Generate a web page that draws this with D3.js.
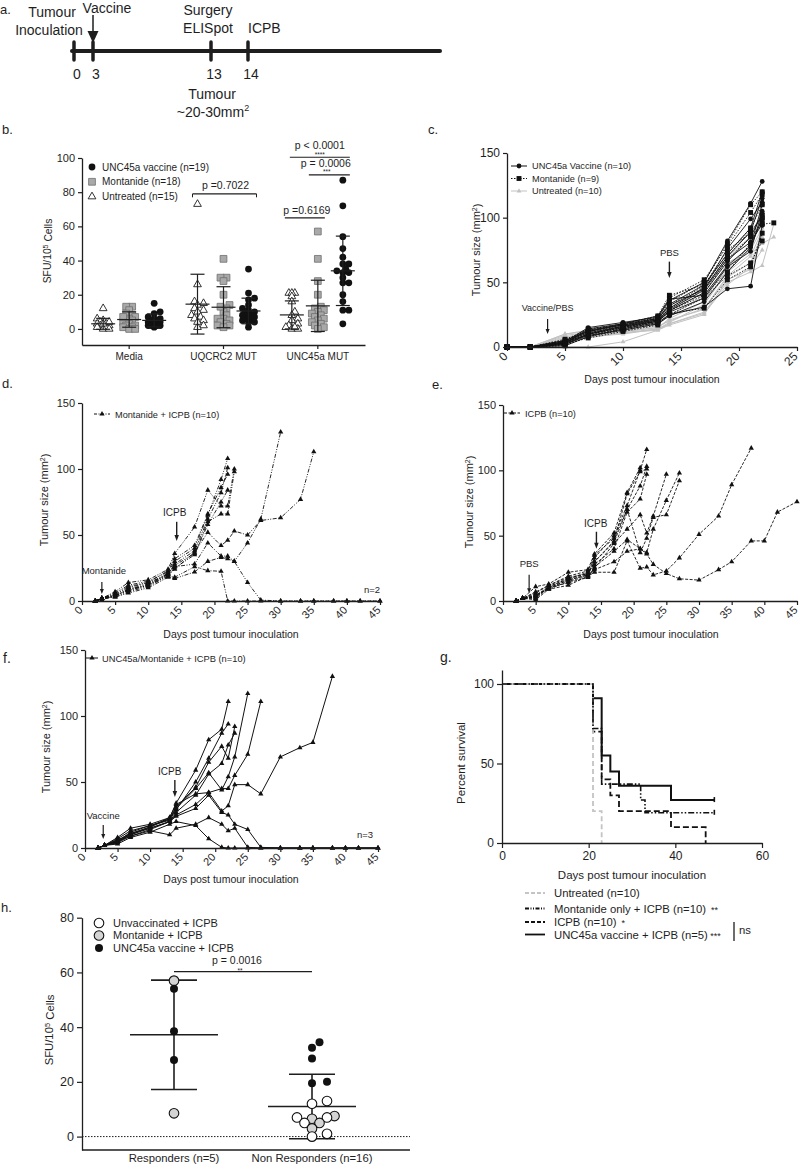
<!DOCTYPE html>
<html><head><meta charset="utf-8">
<script src="https://cdn.jsdelivr.net/npm/d3@7"></script>
<style>
body{margin:0;background:#fff;}
svg{font-family:"Liberation Sans",Arial,sans-serif;}
</style></head><body>
<svg id="fig" width="800" height="1165"></svg>
<script>
// ================= DATA =================
// Panel a: timeline
const timelineDays = [0, 3, 13, 14];
const timelineLabels = ["0", "3", "13", "14"];

// Panel b: ELISpot SFU/10^5 cells
const bCategories = ["Media", "UQCRC2 MUT", "UNC45a MUT"];
const bUntreated = [
  [12, 6, 5, 4, 3, 3, 2, 2, 2, 1, 1, 0, 0, 4, 3],
  [73, 26, 16, 15, 14, 12, 11, 10, 8, 7, 6, 5, 2, 1, 4],
  [21, 21, 21, 19, 16, 10, 8, 6, 5, 3, 2, 1, 0, 0, 1]
];
const bMontanide = [
  [13, 13, 11, 9, 8, 7, 6, 5, 5, 4, 3, 2, 2, 1, 1, 0, 0, 7],
  [41, 30, 30, 28, 20, 14, 12, 10, 8, 6, 6, 5, 4, 3, 2, 2, 1, 13],
  [57, 41, 28, 20, 13, 12, 11, 10, 9, 8, 7, 6, 5, 4, 3, 2, 1, 0]
];
const bVaccine = [
  [15, 10, 9, 7, 6, 5, 5, 4, 4, 4, 3, 3, 3, 2, 2, 2, 2, 1, 6],
  [35, 21, 18, 17, 14, 12, 11, 10, 10, 9, 8, 8, 7, 6, 5, 5, 4, 4, 1],
  [87, 72, 54, 47, 42, 38, 38, 35, 34, 33, 33, 30, 27, 27, 20, 16, 11, 11, 3]
];
const bUntreatedMean = [3, 14.5, 8.2], bUntreatedSD = [3.2, 17.5, 8.2];
const bMontanideMean = [5.5, 12.7, 13.5], bMontanideSD = [4.5, 12, 15];
const bVaccineMean = [5, 10.5, 34], bVaccineSD = [3.8, 7.5, 20.3];
const bYTicks = [0, 20, 40, 60, 80, 100];

// Panel c: tumour growth, no ICPB
const cDays = [0, 2, 5, 7, 10, 13, 14, 17, 19, 21, 22, 23];
const cUntreated = [
  [0,0,10,12,14,17,25,38,60,80,100,null],
  [0,0,8,10,13,16,20,30,55,70,90,null],
  [0,0,5,9,11,14,18,27,50,58,63,95],
  [0,0,0,0,4,13,17,25,52,60,85,null],
  [0,0,9,11,12,15,22,35,65,75,92,null],
  [0,0,7,10,15,20,28,45,70,85,105,null],
  [0,0,3,8,10,14,19,33,58,72,80,85],
  [0,0,10,13,16,18,24,40,62,78,98,null],
  [0,0,6,9,12,15,21,29,54,65,88,null],
  [0,0,4,7,11,13,18,26,48,62,75,null]
];
const cMontanide = [
  [0,0,3,12,16,22,35,50,80,110,120,null],
  [0,0,2,10,15,20,30,45,70,90,100,null],
  [0,0,4,9,14,19,28,42,68,85,95,96],
  [0,0,1,8,13,18,25,38,55,65,82,null],
  [0,0,5,14,17,23,38,52,78,104,118,null],
  [0,0,3,11,15,21,32,47,72,92,110,null],
  [0,0,2,7,12,17,26,30,52,62,88,null],
  [0,0,6,13,18,24,40,48,75,88,102,null],
  [0,0,3,10,14,20,28,40,58,80,98,null]
];
const cVaccine = [
  [0,0,4,15,19,23,36,50,82,111,128,null],
  [0,0,3,13,17,21,30,46,76,99,112,null],
  [0,0,2,10,16,20,28,42,66,85,103,null],
  [0,0,5,12,18,22,33,48,72,92,120,null],
  [0,0,1,8,14,19,25,31,45,47,94,null],
  [0,0,4,11,16,21,29,44,68,81,95,null],
  [0,0,3,14,18,24,37,40,63,78,110,null],
  [0,0,2,9,13,18,24,35,58,77,100,null],
  [0,0,5,12,17,22,32,45,70,89,115,null],
  [0,0,3,10,15,20,27,38,62,74,105,null]
];

// Panels d, e, f: common measurement days
const dDays = [2,3,5,7,10,13,14,17,19,21,22,23,25,27,30,33,35,38,40,42,45];
const dMontanideICPB = [
  [0,2,6,12,15,22,30,40,65,92,108],
  [0,2,5,10,14,20,28,38,62,82,101],
  [0,2,7,14,16,24,36,56,84,72,72,100],
  [0,1,4,9,13,21,27,36,60,66,66,98],
  [0,2,5,11,14,23,32,42,66,86,96],
  [0,2,4,8,12,19,25,35,58,75,84],
  [0,2,3,6,10,18,17,22,30,33,32,30,44,62,128],
  [0,2,4,8,12,20,24,37,52,42,46,53,50,61,63,77,113],
  [0,2,3,7,11,19,18,26,23,22.5,0,0,0,0,0,0,0,0,0,0,0],
  [0,1,4,9,12,21,26,28,44,34,34,30,14,0.7,0,0,0,0,0,0,0]
];
const eICPB = [
  [0,2,11,13,22,24,36,52,83,102],
  [0,2,6,12,18,21,33,50,73,100,116],
  [0,2,4,10,16,20,30,45,70,88,103],
  [0,2,3,11,17,22,28,40,68,78,97],
  [0,2,5,9,15,19,25,44,55,66,52,65,97],
  [0,2,2,10,14,18,26,38,47,40,37,55,77,98],
  [0,2,7,12,19,23,35,48,70,37,48,64,66,92],
  [0,2,1,9,12,19,22,22,46,25,26,20,23,33,51,65,89,117],
  [0,2,3,10,16,20,24,30,38,40,36,28,21,17,16,24,30,46,46,68,76],
  [0,2,4,11,17,21,30,46,82,99,101]
];
const fVaccineICPB = [
  [0,2,5,10,15,20,25,33,42,28,32,48,48,41,69,76,80,130],
  [0,2,7,13,17,22,30,45,57,44,54,69,117],
  [0,2,6,11,16,23,33,41,42,45,45,55,71,111],
  [0,2,8,15,18,23,34,59,82,90,111],
  [0,2,5,12,17,21,29,50,68,87,94],
  [0,2,6,10,16,22,31,46,65,77,68,92],
  [0,2,4,9,14,20,27,40,56,64,78,87],
  [0,2,3,8,12,18,20,17,7,0.5,0,0,0,0,0,0,0,0,0,0,0],
  [0,2,5,9,13,10,15,18,23,18,13,15,0.5,0,0,0,0,0,0,0,0],
  [0,2,4,11,15,20,24,30,40,27,25,18,14,0.5,0,0,0,0,0,0,0]
];
const growthYTicks = [0, 50, 100, 150];
const cXTicks = [0, 5, 10, 15, 20, 25];
const dXTicks = [0, 5, 10, 15, 20, 25, 30, 35, 40, 45];

// Panel g: Kaplan-Meier survival
const gUntreatedT = [0, 21, 23], gUntreatedS = [100, 20, 0];
const gMontanideT = [0, 21, 23, 32, 33, 49], gMontanideS = [100, 72, 37, 27, 19, 19];
const gICPBT = [0, 21, 23, 25, 27, 39, 47], gICPBS = [100, 70, 40, 30, 20, 10, 0];
const gVaccineT = [0, 21, 23, 25, 27, 39, 49], gVaccineS = [100, 91, 55, 45, 36, 27, 27];
const gXTicks = [0, 20, 40, 60], gYTicks = [0, 50, 100];

// Panel h: responders vs non responders
const hCategories = ["Responders (n=5)", "Non Responders (n=16)"];
const hResponders = [57, 54, 38.5, 28, 8.5];
const hRespondersType = ["M", "V", "V", "V", "M"];
const hNonResponders = [34.5, 32.5, 28.5, 20, 19.5, 13, 12, 7.5, 7, 7, 6.5, 5, 5, 3, 1, 0];
const hNonRespondersType = ["V","V","V","V","V","U","U","M","U","U","M","M","U","M","U","U"];
const hMean = [37.2, 11], hSD = [20, 11.8];
const hYTicks = [0, 20, 40, 60, 80];

// ================= DRAWING =================
const svg = d3.select("#fig");
const INK = "#1e1e1e";

function styleAxis(g, fs) {
  g.attr("font-family", null).attr("font-size", null);
  g.selectAll(".domain").attr("stroke", INK).attr("stroke-width", 1.3);
  g.selectAll(".tick line").attr("stroke", INK).attr("stroke-width", 1.2);
  g.selectAll(".tick text").attr("fill", INK).style("font-size", fs + "px");
}
function text(x, y, s, fs, anchor, extra) {
  const t = svg.append("text").attr("x", x).attr("y", y).attr("fill", INK)
    .style("font-size", fs + "px").attr("text-anchor", anchor || "start").text(s);
  if (extra) extra(t);
  return t;
}
function vlabel(cx, cy, fs, build) {
  const t = svg.append("text").attr("transform", `translate(${cx},${cy}) rotate(-90)`)
    .attr("text-anchor", "middle").attr("dy", "0.35em").attr("fill", INK).style("font-size", fs + "px");
  build(t);
}
function arrow(x, y1, y2, w, h, sw) {
  svg.append("line").attr("x1", x).attr("x2", x).attr("y1", y1).attr("y2", y2 - h + 1)
    .attr("stroke", INK).attr("stroke-width", sw);
  svg.append("path").attr("d", `M${x - w / 2},${y2 - h}L${x + w / 2},${y2 - h}L${x},${y2}Z`).attr("fill", INK);
}
function swarm(vals, cx, yS, minDist, step, maxK) {
  const idx = vals.map((v, i) => i).sort((a, b) => vals[a] - vals[b]);
  const placed = [], out = new Array(vals.length);
  const ks = [0];
  for (let k = 1; k <= maxK; k++) ks.push(k, -k);
  idx.forEach(i => {
    const y = yS(vals[i]);
    let best = cx, bestD = -1;
    for (const k of ks) {
      const x = cx + k * step;
      let d = Infinity;
      placed.forEach(p => { d = Math.min(d, Math.hypot(p[0] - x, p[1] - y)); });
      if (d >= minDist) { best = x; bestD = d; break; }
      if (d > bestD) { bestD = d; best = x; }
    }
    placed.push([best, y]);
    out[i] = [best, y];
  });
  return out;
}

// ---------- Panel a ----------
text(0, 14, "a.", 13);
const aX = d3.scaleLinear().domain([0, 3, 13, 14]).range([74, 93, 211, 248]);
svg.append("line").attr("x1", 72).attr("x2", 440).attr("y1", 51).attr("y2", 51)
  .attr("stroke", INK).attr("stroke-width", 4).attr("stroke-linecap", "round");
timelineDays.forEach((d, i) => {
  svg.append("line").attr("x1", aX(d)).attr("x2", aX(d)).attr("y1", 42).attr("y2", 60)
    .attr("stroke", INK).attr("stroke-width", 3.5).attr("stroke-linecap", "round");
  text(aX(d) + 3, 79, timelineLabels[i], 14, "middle");
});
text(52, 17, "Tumour", 14, "middle");
text(49, 35, "Inoculation", 14, "middle");
text(107, 13, "Vaccine", 14, "middle");
arrow(aX(3), 15, 43, 11, 12, 1.5);
text(208, 15, "Surgery", 14, "middle");
text(208, 33, "ELISpot", 14, "middle");
text(aX(14), 33, "ICPB", 14, "start");
text(212, 99, "Tumour", 14, "middle");
text(213, 117, "~20-30mm", 14, "middle", t => t.append("tspan").attr("dy", -6).style("font-size", "9px").text("2"));

// ---------- Panel b ----------
text(2, 134, "b.", 13);
const bx = d3.scaleBand().domain(bCategories).range([82, 365]);
const by = d3.scaleLinear().domain([-9.4, 100]).range([345, 158]);
const bOff = [-26, 0, 25];
svg.append("g").attr("transform", "translate(82,0)")
  .call(d3.axisLeft(by).tickValues(bYTicks).tickSize(4).tickSizeOuter(0)).call(g => styleAxis(g, 11));
svg.append("g").attr("transform", "translate(0,345)")
  .call(d3.axisBottom(bx).tickSize(4).tickSizeOuter(0).tickPadding(4)).call(g => styleAxis(g, 10));
vlabel(47, 251, 10.3, t => { t.append("tspan").text("SFU/10"); t.append("tspan").attr("dy", "-0.4em").style("font-size", "7px").text("5"); t.append("tspan").attr("dy", "0.4em").text(" Cells"); });

const triSym = d3.symbol(d3.symbolTriangle, 26);
const sqSym = d3.symbol(d3.symbolSquare, 46);
const ciSym = d3.symbol(d3.symbolCircle, 36);
function bMarker(kind, x, y) {
  const p = svg.append("path").attr("transform", `translate(${x},${y})`);
  if (kind === 0) p.attr("d", triSym()).attr("fill", "#fff").attr("stroke", INK).attr("stroke-width", 0.9);
  else if (kind === 1) p.attr("d", sqSym()).attr("fill", "#a9a9a9").attr("stroke", "#6e6e6e").attr("stroke-width", 0.8);
  else p.attr("d", ciSym()).attr("fill", "#111");
}
const bSets = [bUntreated, bMontanide, bVaccine];
const bMeans = [bUntreatedMean, bMontanideMean, bVaccineMean];
const bSDs = [bUntreatedSD, bMontanideSD, bVaccineSD];
bCategories.forEach((cat, ci) => {
  const c0 = bx(cat) + bx.bandwidth() / 2;
  bSets.forEach((set, gi) => {
    const cx = c0 + bOff[gi];
    const pos = swarm(set[ci], cx, by, 4, 3, 2);
    pos.forEach(p => bMarker(gi, p[0], p[1]));
    const m = bMeans[gi][ci], s = bSDs[gi][ci];
    const eb = svg.append("g").attr("stroke", INK).attr("stroke-width", 1.2);
    eb.append("line").attr("x1", cx).attr("x2", cx).attr("y1", by(m - s)).attr("y2", by(m + s));
    eb.append("line").attr("x1", cx - 12).attr("x2", cx + 12).attr("y1", by(m)).attr("y2", by(m));
    [m - s, m + s].forEach(v => eb.append("line").attr("x1", cx - 7).attr("x2", cx + 7).attr("y1", by(v)).attr("y2", by(v)));
  });
});
// legend b
const bLegend = ["UNC45a vaccine (n=19)", "Montanide (n=18)", "Untreated (n=15)"];
[2, 1, 0].forEach((kind, i) => {
  const y = 167 + i * 14.8;
  bMarker(kind, 92, y);
  text(102, y + 3.6, bLegend[i], 10);
});
// significance annotations b
function hline(x1, x2, y, sw) { svg.append("line").attr("x1", x1).attr("x2", x2).attr("y1", y).attr("y2", y).attr("stroke", INK).attr("stroke-width", sw || 1.1); }
const cU = bx("UQCRC2 MUT") + bx.bandwidth() / 2, cN = bx("UNC45a MUT") + bx.bandwidth() / 2;
hline(cU - 31, cU + 33, by(79));
svg.append("line").attr("x1", cU - 31).attr("x2", cU - 31).attr("y1", by(79)).attr("y2", by(77)).attr("stroke", INK);
svg.append("line").attr("x1", cU + 33).attr("x2", cU + 33).attr("y1", by(79)).attr("y2", by(77)).attr("stroke", INK);
text(cU + 2, by(79) - 5, "p =0.7022", 10.5, "middle");
hline(cN - 33, cN + 7, by(65));
text(cN - 11, by(65) - 3.5, "p =0.6169", 10.5, "middle");
hline(cN - 28, cN + 32, by(100.4));
text(cN + 2, by(100.4) - 8.5, "p < 0.0001", 10.5, "middle");
text(cN + 2, by(100.4) - 0.8, "****", 6.5, "middle");
hline(cN - 9, cN + 32, by(90.1));
text(cN + 8, by(90.1) - 7.5, "p = 0.0006", 10.5, "middle");
text(cN + 9, by(90.1) - 1, "***", 6.5, "middle");

// ---------- growth panels (c, d, e, f) ----------
function growthAxes(xS, yS, xTicks, fsY, fsX) {
  const y0 = yS(0);
  svg.append("g").attr("transform", `translate(${xS(0)},0)`)
    .call(d3.axisLeft(yS).tickValues(growthYTicks).tickSize(4).tickSizeOuter(0)).call(g => styleAxis(g, fsY));
  svg.append("g").attr("transform", `translate(0,${y0})`)
    .call(d3.axisBottom(xS).tickValues(xTicks).tickSize(4).tickSizeOuter(0)).call(g => styleAxis(g, fsX))
    .call(g => g.selectAll(".tick text").attr("y", 0).attr("dy", "0.35em").attr("text-anchor", "end")
      .attr("transform", "translate(-2,7) rotate(-45)"));
}
function series(days, vals) {
  return days.map((d, i) => [d, vals[i]]).filter(p => p[1] !== null && p[1] !== undefined);
}
function drawGrowth(xS, yS, data, days, opt) {
  const line = d3.line().x(p => xS(p[0])).y(p => yS(p[1]));
  data.forEach(vals => {
    const pts = series(days, vals);
    svg.append("path").attr("d", line(pts)).attr("fill", "none").attr("stroke", opt.color)
      .attr("stroke-width", opt.sw).attr("stroke-dasharray", opt.dash || null);
    pts.forEach(p => svg.append("path").attr("d", opt.sym()).attr("fill", opt.fill || opt.color)
      .attr("transform", `translate(${xS(p[0])},${yS(p[1])})`));
  });
}
const smallTri = d3.symbol(d3.symbolTriangle, 12);
const greyTri = d3.symbol(d3.symbolTriangle, 10);
const cSq = d3.symbol(d3.symbolSquare, 24);
const cCi = d3.symbol(d3.symbolCircle, 18);
function mmLabel(t) { t.append("tspan").text("Tumour size (mm"); t.append("tspan").attr("dy", "-0.4em").style("font-size", "7px").text("2"); t.append("tspan").attr("dy", "0.4em").text(")"); }

// Panel c
text(428, 134, "c.", 13);
const cx_ = d3.scaleLinear().domain([0, 25]).range([507, 797]);
const cy_ = d3.scaleLinear().domain([0, 150]).range([347, 153]);
drawGrowth(cx_, cy_, cUntreated, cDays, { color: "#c2c2c2", sw: 1, sym: greyTri });
drawGrowth(cx_, cy_, cMontanide, cDays, { color: "#111", sw: 0.9, dash: "1.5,1.5", sym: cSq });
drawGrowth(cx_, cy_, cVaccine, cDays, { color: "#111", sw: 0.9, sym: cCi });
growthAxes(cx_, cy_, cXTicks, 12, 12);
text(652, 383, "Days post tumour inoculation", 10.5, "middle");
vlabel(476, 250, 11, mmLabel);
const cLeg = [["UNC45a Vaccine (n=10)", "#111", null, cCi], ["Montanide (n=9)", "#111", "1.5,1.5", cSq], ["Untreated (n=10)", "#c2c2c2", null, greyTri]];
cLeg.forEach((l, i) => {
  const y = 166 + i * 12.5;
  svg.append("line").attr("x1", 511).attr("x2", 527).attr("y1", y).attr("y2", y).attr("stroke", l[1]).attr("stroke-width", 1).attr("stroke-dasharray", l[2]);
  svg.append("path").attr("d", l[3]()).attr("fill", l[1]).attr("transform", `translate(519,${y})`);
  text(532, y + 3.3, l[0], 9.2);
});
text(cx_(3.5), cy_(27.8), "Vaccine/PBS", 9, "middle");
arrow(cx_(3.5), cy_(21.6), cy_(10), 4, 5, 1.2);
text(cx_(14), cy_(70.4), "PBS", 9.5, "middle");
arrow(cx_(14), cy_(66), cy_(53.4), 4.5, 6, 1.4);

// Panel d
text(2, 388, "d.", 13);
const dx_ = d3.scaleLinear().domain([0, 45]).range([82, 380]);
const dy_ = d3.scaleLinear().domain([0, 150]).range([601, 403]);
drawGrowth(dx_, dy_, dMontanideICPB, dDays, { color: "#111", sw: 0.9, dash: "4,1.5,1,1.5,1,1.5", sym: smallTri });
growthAxes(dx_, dy_, dXTicks, 11, 11);
text(231, 638, "Days post tumour inoculation", 10.5, "middle");
vlabel(44, 500, 11, mmLabel);
svg.append("line").attr("x1", 94).attr("x2", 110).attr("y1", 414).attr("y2", 414).attr("stroke", "#111").attr("stroke-dasharray", "3,1.5,1,1.5");
svg.append("path").attr("d", smallTri()).attr("fill", "#111").attr("transform", "translate(102,414)");
text(115, 417.5, "Montanide + ICPB (n=10)", 9.2);
text(dx_(3.3), dy_(20.5), "Montanide", 9.5, "middle");
arrow(dx_(3), dy_(14.4), dy_(5.3), 4, 5, 1.2);
text(dx_(14), dy_(64.5), "ICPB", 10, "middle");
arrow(dx_(14.3), dy_(60), dy_(45.5), 4.5, 6, 1.4);
text(dx_(45), dy_(6), "n=2", 9.5, "end");

// Panel e
text(432, 389, "e.", 13);
const ex_ = d3.scaleLinear().domain([0, 45]).range([503, 797]);
const ey_ = d3.scaleLinear().domain([0, 150]).range([601, 405]);
drawGrowth(ex_, ey_, eICPB, dDays, { color: "#111", sw: 0.9, dash: "3,1.5", sym: smallTri });
growthAxes(ex_, ey_, dXTicks, 11, 11);
text(651, 638, "Days post tumour inoculation", 10.5, "middle");
vlabel(469, 502, 11, mmLabel);
svg.append("line").attr("x1", 504).attr("x2", 520).attr("y1", 413).attr("y2", 413).attr("stroke", "#111").attr("stroke-dasharray", "3,1.5");
svg.append("path").attr("d", smallTri()).attr("fill", "#111").attr("transform", "translate(512,413)");
text(525, 416.5, "ICPB (n=10)", 9.2);
text(ex_(4), ey_(26), "PBS", 9.5, "middle");
arrow(ex_(4), ey_(20), ey_(6), 4, 5, 1.2);
text(ex_(14.2), ey_(56.6), "ICPB", 10, "middle");
arrow(ex_(14.3), ey_(53), ey_(40), 4.5, 6, 1.4);

// Panel f
text(3, 663, "f.", 14);
const fx_ = d3.scaleLinear().domain([0, 45]).range([85, 378]);
const fy_ = d3.scaleLinear().domain([0, 150]).range([848, 650]);
drawGrowth(fx_, fy_, fVaccineICPB, dDays, { color: "#111", sw: 1, sym: smallTri });
growthAxes(fx_, fy_, dXTicks, 11, 11);
text(231, 883, "Days post tumour inoculation", 10.5, "middle");
vlabel(46, 747, 11, mmLabel);
svg.append("line").attr("x1", 86).attr("x2", 98).attr("y1", 658).attr("y2", 658).attr("stroke", "#111");
svg.append("path").attr("d", smallTri()).attr("fill", "#111").attr("transform", "translate(92,658)");
text(102, 661.5, "UNC45a/Montanide + ICPB (n=10)", 9.3);
text(fx_(2.8), fy_(22), "Vaccine", 9.5, "middle");
arrow(fx_(2.8), fy_(17.4), fy_(6.8), 4, 5, 1.2);
text(fx_(13), fy_(55.3), "ICPB", 10, "middle");
arrow(fx_(13.8), fy_(51.5), fy_(38.6), 4.5, 6, 1.4);
text(fx_(43), fy_(7.6), "n=3", 9.5, "middle");

// ---------- Panel g ----------
text(440, 662, "g.", 14);
const gx = d3.scaleLinear().domain([0, 60]).range([502, 762]);
const gy = d3.scaleLinear().domain([0, 108.8]).range([843, 670]);
const kmLine = d3.line().x(p => gx(p[0])).y(p => gy(p[1])).curve(d3.curveStepAfter);
function km(T, S) { return T.map((t, i) => [t, S[i]]); }
const gStyles = [
  [gVaccineT, gVaccineS, "#111", 2, null],
  [gICPBT, gICPBS, "#111", 1.8, "6,3"],
  [gUntreatedT, gUntreatedS, "#c4c4c4", 1.8, "5,3"],
  [gMontanideT, gMontanideS, "#111", 1.6, "6,2,1.5,2,1.5,2"]
];
gStyles.forEach(s => svg.append("path").attr("d", kmLine(km(s[0], s[1]))).attr("fill", "none")
  .attr("stroke", s[2]).attr("stroke-width", s[3]).attr("stroke-dasharray", s[4]));
[[49, 27], [49, 19]].forEach(c => svg.append("line").attr("x1", gx(c[0])).attr("x2", gx(c[0]))
  .attr("y1", gy(c[1]) - 3).attr("y2", gy(c[1]) + 2).attr("stroke", "#111").attr("stroke-width", 1.6));
svg.append("g").attr("transform", `translate(${gx(0)},0)`)
  .call(d3.axisLeft(gy).tickValues(gYTicks).tickSize(5).tickSizeOuter(0)).call(g => styleAxis(g, 12));
svg.append("g").attr("transform", `translate(0,${gy(0)})`)
  .call(d3.axisBottom(gx).tickValues(gXTicks).tickSize(5).tickSizeOuter(0).tickPadding(3)).call(g => styleAxis(g, 12));
text(632, 879, "Days post tumour inoculation", 11.5, "middle");
vlabel(461, 763, 11.5, t => t.text("Percent survival"));
const gLeg = [
  ["Untreated (n=10)", "", "#c4c4c4", "4,2"],
  ["Montanide only + ICPB (n=10)", "  **", "#111", "4,1.5,1,1.5,1,1.5"],
  ["ICPB (n=10)", "  *", "#111", "4,2"],
  ["UNC45a vaccine + ICPB (n=5)", " ***", "#111", null]
];
const gLegY = [893, 908.5, 922, 934.5];
gLeg.forEach((l, i) => {
  const y = gLegY[i];
  svg.append("line").attr("x1", 525).attr("x2", 545).attr("y1", y).attr("y2", y)
    .attr("stroke", l[2]).attr("stroke-width", 1.8).attr("stroke-dasharray", l[3]);
  text(554, y + 4, l[0], 11.3, "start", t => { if (l[1]) t.append("tspan").style("font-size", "9px").attr("xml:space", "preserve").text(l[1]); });
});
svg.append("line").attr("x1", 734).attr("x2", 734).attr("y1", 922).attr("y2", 941).attr("stroke", INK).attr("stroke-width", 1.3);
text(739, 934, "ns", 11.3);

// ---------- Panel h ----------
text(1, 912, "h.", 13);
const hx = d3.scalePoint().domain(hCategories).range([174, 312]);
const hy = d3.scaleLinear().domain([-4.9, 80]).range([1150, 917.7]);
svg.append("line").attr("x1", 82).attr("x2", 410).attr("y1", hy(0)).attr("y2", hy(0))
  .attr("stroke", INK).attr("stroke-width", 1).attr("stroke-dasharray", "1.5,1.5");
svg.append("g").attr("transform", "translate(82,0)")
  .call(d3.axisLeft(hy).tickValues(hYTicks).tickSize(5).tickSizeOuter(0)).call(g => styleAxis(g, 12.5));
svg.append("line").attr("x1", 82).attr("x2", 410).attr("y1", 1150).attr("y2", 1150).attr("stroke", INK).attr("stroke-width", 1.3);
hCategories.forEach(c => text(hx(c), 1162, c, 11.3, "middle"));
vlabel(49, 1030, 11.3, t => { t.append("tspan").text("SFU/10"); t.append("tspan").attr("dy", "-0.4em").style("font-size", "7.5px").text("5"); t.append("tspan").attr("dy", "0.4em").text(" Cells"); });
function hMarker(type, x, y) {
  const fill = type === "V" ? "#111" : type === "M" ? "#d4d4d4" : "#fff";
  svg.append("circle").attr("cx", x).attr("cy", y).attr("r", type === "V" ? 4 : 4.8)
    .attr("fill", fill).attr("stroke", "#111").attr("stroke-width", type === "V" ? 0 : 1.1);
}
[[hResponders, hRespondersType], [hNonResponders, hNonRespondersType]].forEach((g, gi) => {
  const cx = hx(hCategories[gi]);
  const m = hMean[gi], s = hSD[gi];
  const eb = svg.append("g").attr("stroke", INK).attr("stroke-width", 1.6);
  eb.append("line").attr("x1", cx).attr("x2", cx).attr("y1", hy(m - s)).attr("y2", hy(m + s));
  eb.append("line").attr("x1", cx - 44).attr("x2", cx + 44).attr("y1", hy(m)).attr("y2", hy(m));
  [m - s, m + s].forEach(v => eb.append("line").attr("x1", cx - 23).attr("x2", cx + 23).attr("y1", hy(v)).attr("y2", hy(v)));
  const pos = swarm(g[0], cx, hy, 8, 7.5, 3);
  pos.forEach((p, i) => hMarker(g[1][i], p[0], p[1]));
});
hline(hx(hCategories[0]), hx(hCategories[1]), hy(60.3), 1.4);
text(237, 964, "p = 0.0016", 10.5, "middle");
text(240, 973, "**", 6.5, "middle");
const hLeg = [["U", "Unvaccinated + ICPB"], ["M", "Montanide + ICPB"], ["V", "UNC45a vaccine + ICPB"]];
const hLegY = [923, 935.5, 948];
hLeg.forEach((l, i) => { hMarker(l[0], 99, hLegY[i]); text(113, hLegY[i] + 3.8, l[1], 11); });
</script>
</body></html>
